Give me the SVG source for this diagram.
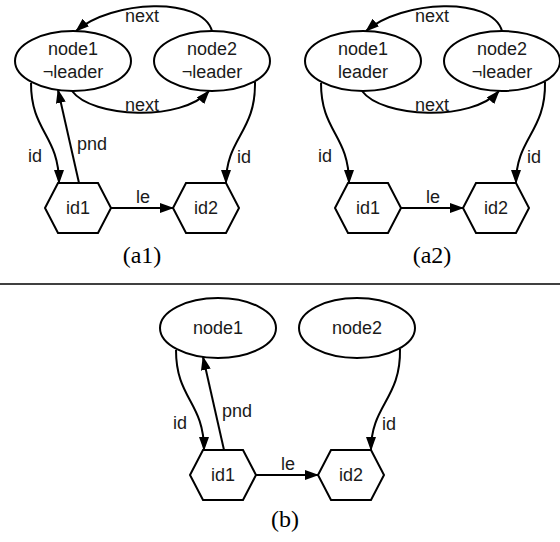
<svg xmlns="http://www.w3.org/2000/svg" width="560" height="542" viewBox="0 0 560 542">
<style>
.shape{fill:#fff;stroke:#000;stroke-width:2}
.edge{fill:none;stroke:#000;stroke-width:2;marker-end:url(#arr)}
.lbl{font-family:"Liberation Sans",Arial,sans-serif;font-size:18px;fill:#1a1a1a}
.mid{text-anchor:middle}
.cap{font-family:"Liberation Serif","Times New Roman",serif;font-size:24px;fill:#000;text-anchor:middle}
</style>
<defs>
<marker id="arr" markerUnits="userSpaceOnUse" viewBox="0 0 14 10" markerWidth="14" markerHeight="10" refX="13" refY="5" orient="auto">
<path d="M0,0 L14,5 L0,10 z" fill="#000"/>
</marker>
</defs>
<rect width="560" height="542" fill="#fff"/>

<!-- panel a1 -->
<g id="panel-a1">
<g id="a1-connectors">
<path class="edge" d="M212,31 C202,-4 112,0 76,31"/>
<path class="edge" d="M72,91 C92,118 182,122 209,91"/>
<path class="edge" d="M31,83 C31,132 59,135 59,183"/>
<path class="edge" d="M79,183 L58,90"/>
<path class="edge" d="M255,82 C256,132 226,138 226,183"/>
<path class="edge" d="M111,208 L173,208"/>
<text class="lbl mid" x="142" y="22">next</text>
<text class="lbl mid" x="142" y="111">next</text>
<text class="lbl" x="28" y="162">id</text>
<text class="lbl" x="77" y="150">pnd</text>
<text class="lbl" x="237" y="163">id</text>
<text class="lbl mid" x="143" y="203">le</text>
</g>
<g id="a1-node1"><ellipse class="shape" cx="73" cy="61" rx="58" ry="30"/><text class="lbl mid" x="73" y="55">node1</text><text class="lbl mid" x="73" y="78">¬leader</text></g>
<g id="a1-node2"><ellipse class="shape" cx="212" cy="61" rx="58" ry="30"/><text class="lbl mid" x="212" y="55">node2</text><text class="lbl mid" x="212" y="78">¬leader</text></g>
<g id="a1-id1"><polygon class="shape" points="45,208 58,183 98,183 111,208 98,233 58,233"/><text class="lbl mid" x="78" y="214">id1</text></g>
<g id="a1-id2"><polygon class="shape" points="173,208 186,183 226,183 239,208 226,233 186,233"/><text class="lbl mid" x="206" y="214">id2</text></g>
<text class="cap" x="142" y="263">(a1)</text>
</g>

<!-- panel a2 -->
<g id="panel-a2" transform="translate(290,0)">
<g id="a2-connectors">
<path class="edge" d="M212,31 C202,-4 112,0 76,31"/>
<path class="edge" d="M72,91 C92,118 182,122 209,91"/>
<path class="edge" d="M31,83 C31,132 59,135 59,183"/>
<path class="edge" d="M255,82 C256,132 226,138 226,183"/>
<path class="edge" d="M111,208 L173,208"/>
<text class="lbl mid" x="142" y="22">next</text>
<text class="lbl mid" x="142" y="111">next</text>
<text class="lbl" x="28" y="162">id</text>
<text class="lbl" x="237" y="163">id</text>
<text class="lbl mid" x="143" y="203">le</text>
</g>
<g id="a2-node1"><ellipse class="shape" cx="73" cy="61" rx="58" ry="30"/><text class="lbl mid" x="73" y="55">node1</text><text class="lbl mid" x="73" y="78">leader</text></g>
<g id="a2-node2"><ellipse class="shape" cx="212" cy="61" rx="58" ry="30"/><text class="lbl mid" x="212" y="55">node2</text><text class="lbl mid" x="212" y="78">¬leader</text></g>
<g id="a2-id1"><polygon class="shape" points="45,208 58,183 98,183 111,208 98,233 58,233"/><text class="lbl mid" x="78" y="214">id1</text></g>
<g id="a2-id2"><polygon class="shape" points="173,208 186,183 226,183 239,208 226,233 186,233"/><text class="lbl mid" x="206" y="214">id2</text></g>
<text class="cap" x="142" y="263">(a2)</text>
</g>

<line id="separator" x1="0" y1="284" x2="560" y2="284" stroke="#000" stroke-width="1.3"/>

<!-- panel b -->
<g id="panel-b" transform="translate(145,267)">
<g id="b-connectors">
<path class="edge" d="M31,83 C31,132 59,135 59,183"/>
<path class="edge" d="M79,183 L58,90"/>
<path class="edge" d="M255,82 C256,132 226,138 226,183"/>
<path class="edge" d="M111,208 L173,208"/>
<text class="lbl" x="28" y="162">id</text>
<text class="lbl" x="77" y="150">pnd</text>
<text class="lbl" x="237" y="163">id</text>
<text class="lbl mid" x="143" y="203">le</text>
</g>
<g id="b-node1"><ellipse class="shape" cx="73" cy="61" rx="58" ry="30"/><text class="lbl mid" x="73" y="67">node1</text></g>
<g id="b-node2"><ellipse class="shape" cx="212" cy="61" rx="58" ry="30"/><text class="lbl mid" x="212" y="67">node2</text></g>
<g id="b-id1"><polygon class="shape" points="45,208 58,183 98,183 111,208 98,233 58,233"/><text class="lbl mid" x="78" y="214">id1</text></g>
<g id="b-id2"><polygon class="shape" points="173,208 186,183 226,183 239,208 226,233 186,233"/><text class="lbl mid" x="206" y="214">id2</text></g>
</g>
<text class="cap" x="285" y="527">(b)</text>
</svg>
